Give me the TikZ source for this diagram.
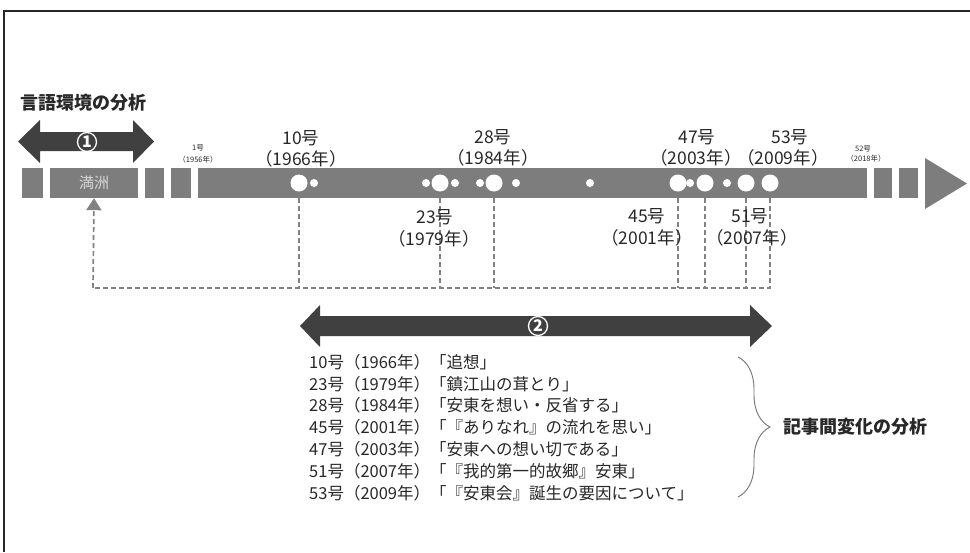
\documentclass[tikz,border=0pt]{standalone}
\usepackage{fontspec}
\setmainfont{Noto Sans CJK JP}
\usetikzlibrary{arrows.meta,decorations.pathreplacing}
\definecolor{bargray}{RGB}{125,125,125}
\definecolor{darkarr}{RGB}{64,64,64}
\definecolor{dashgray}{RGB}{130,130,130}
\definecolor{txt}{RGB}{40,40,40}
\definecolor{mantxt}{RGB}{215,215,215}
\begin{document}
\begin{tikzpicture}[x=1pt,y=-1pt,
  lbl/.style={font=\fontsize{17.5}{17.5}\selectfont, text=txt, inner sep=0pt},
  tinylbl/.style={font=\fontsize{7.5}{7.5}\selectfont, text=txt, inner sep=0pt},
  listtxt/.style={font=\fontsize{16.5}{16.5}\selectfont, text=txt, inner sep=0pt, anchor=west},
  boldtxt/.style={font=\fontsize{18}{18}\selectfont\bfseries, text=txt, inner sep=0pt, anchor=west},
  seg/.style={fill=bargray, draw=none, inner sep=0pt, minimum height=30pt},
  bigc/.style={circle, fill=white, inner sep=0pt, minimum size=17pt},
  smallc/.style={circle, fill=white, inner sep=0pt, minimum size=8pt},
  dline/.style={draw=dashgray, line width=1.7pt, dash pattern=on 5pt off 3pt},
  numc/.style={circle, draw=white, line width=1.3pt, inner sep=0pt, minimum size=19pt, text=white, font=\fontsize{16}{16}\selectfont\bfseries},
]
\useasboundingbox (0,0) rectangle (970,552);
\fill[white] (0,0) rectangle (970,552);
% frame
\draw[line width=1.5pt, black!85] (970,11) -- (4,11) -- (4,552);

% title 1
\node[boldtxt] (t1) at (20,103) {言語環境の分析};

% double arrow 1
\fill[darkarr] (18,141.5) -- (40,120) -- (40,132) -- (133,132) -- (133,120) -- (154,141.5)
  -- (133,163) -- (133,151) -- (40,151) -- (40,163) -- cycle;
\node[numc] (n1) at (87,142) {1};

% timeline segments
\node[seg, minimum width=21pt] (s1) at (32.5,183) {};
\node[seg, minimum width=88pt, text=mantxt, font=\fontsize{15}{15}\selectfont] (manshu) at (94,183) {満洲};
\node[seg, minimum width=19pt] (s3) at (154.5,183) {};
\node[seg, minimum width=20pt] (s4) at (181,183) {};
\node[seg, minimum width=669pt] (main) at (532.5,183) {};
\node[seg, minimum width=18pt] (s6) at (883,183) {};
\node[seg, minimum width=19pt] (s7) at (908.5,183) {};
\fill[bargray] (925,158) -- (967,183.5) -- (925,209) -- cycle;

% circles
\node[bigc] (c10) at (299,183) {};
\node[smallc] (d1) at (314,183) {};
\node[smallc] (d2) at (426,183) {};
\node[bigc] (c23) at (440,183) {};
\node[smallc] (d3) at (455,183) {};
\node[smallc] (d4) at (480,183) {};
\node[bigc] (c28) at (494,183) {};
\node[smallc] (d5) at (516,183) {};
\node[smallc] (d6) at (590,183) {};
\node[bigc] (c45) at (678,183) {};
\node[smallc] (d7) at (690,183) {};
\node[bigc] (c47) at (705,183) {};
\node[smallc] (d8) at (727,183) {};
\node[bigc] (c51) at (746,183) {};
\node[bigc] (c53) at (770,183) {};

% dashed connectors
\coordinate (jn) at (93,288);
\foreach \c in {c10,c23,c28,c45,c47,c51}
  \draw[dline] (\c |- main.south) -- (\c |- jn);
\draw[dline] (c53 |- main.south) |- (jn);
\draw[dline, -{Triangle[length=12pt,width=15pt]}] (jn) -- (manshu.south);

% labels above
\node[lbl] (l10a) at (301,138) {10号};
\node[lbl] (l10b) at (301,159) {（1966年）};
\node[lbl] (l28a) at (493,137) {28号};
\node[lbl] (l28b) at (493,158) {（1984年）};
\node[lbl] (l47a) at (697,137) {47号};
\node[lbl] (l47b) at (696,158) {（2003年）};
\node[lbl] (l53a) at (790,137) {53号};
\node[lbl] (l53b) at (783,158) {（2009年）};
\node[tinylbl] (l1a) at (198,148) {1号};
\node[tinylbl] (l1b) at (198,160) {（1956年）};
\node[tinylbl] (l52a) at (863,149) {52号};
\node[tinylbl] (l52b) at (866,159) {（2018年）};
% labels below
\node[lbl] (l23a) at (435,217) {23号};
\node[lbl] (l23b) at (434,239) {（1979年）};
\node[lbl] (l45a) at (647,216) {45号};
\node[lbl] (l45b) at (647,238) {（2001年）};
\node[lbl] (l51a) at (750,216) {51号};
\node[lbl] (l51b) at (752,238) {（2007年）};

% double arrow 2
\fill[darkarr] (300,326) -- (320,305) -- (320,316) -- (750,316) -- (750,305) -- (772,326)
  -- (750,347) -- (750,336) -- (320,336) -- (320,347) -- cycle;
\node[numc] (n2) at (538,326) {2};

% list
\node[listtxt] (r1) at (309,362) {10号（1966年）「追想」};
\node[listtxt] (r2) at (309,383.8) {23号（1979年）「鎮江山の茸とり」};
\node[listtxt] (r3) at (309,405.6) {28号（1984年）「安東を想い・反省する」};
\node[listtxt] (r4) at (309,427.4) {45号（2001年）「『ありなれ』の流れを思い」};
\node[listtxt] (r5) at (309,449.2) {47号（2003年）「安東への想い切である」};
\node[listtxt] (r6) at (309,471) {51号（2007年）「『我的第一的故郷』安東」};
\node[listtxt] (r7) at (309,492.8) {53号（2009年）「『安東会』誕生の要因について」};

% brace and label
\draw[draw=black!55, line width=0.9pt, decorate, decoration={brace, amplitude=32pt}] (738,357) -- (738,497);
\node[boldtxt] (t2) at (783,427) {記事間変化の分析};
\end{tikzpicture}
\end{document}
